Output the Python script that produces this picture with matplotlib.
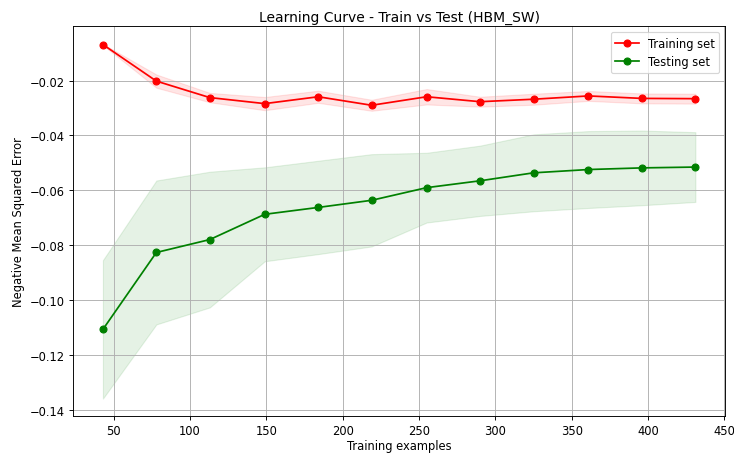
import numpy as np
import matplotlib
matplotlib.use("Agg")
import matplotlib.pyplot as plt

train_sizes = [43, 78, 113, 149, 184, 219, 255, 290, 325, 361, 396, 431]
train_mean = [-0.0069, -0.0202, -0.0262, -0.0284, -0.0259, -0.0290,
              -0.0259, -0.0277, -0.0268, -0.0256, -0.0265, -0.0266]
train_std = [0.0002, 0.0024, 0.0017, 0.0024, 0.0022, 0.0020,
             0.0028, 0.0018, 0.0020, 0.0018, 0.0018, 0.0018]
test_mean = [-0.1106, -0.0826, -0.0779, -0.0687, -0.0662, -0.0636,
             -0.0590, -0.0565, -0.0536, -0.0524, -0.0518, -0.0515]
test_std = [0.0252, 0.0262, 0.0247, 0.0171, 0.0170, 0.0168,
            0.0127, 0.0128, 0.0140, 0.0140, 0.0136, 0.0127]

tr_m = np.array(train_mean); tr_s = np.array(train_std)
te_m = np.array(test_mean); te_s = np.array(test_std)

dpi = 83
fig = plt.figure(figsize=(734 / dpi, 454 / dpi), dpi=dpi)
ax = fig.add_axes([73.3 / 734, 1 - 417.3 / 454, (725 - 73.3) / 734, (417.3 - 27.3) / 454])

ax.fill_between(train_sizes, tr_m - tr_s, tr_m + tr_s, alpha=0.1, color="r")
ax.fill_between(train_sizes, te_m - te_s, te_m + te_s, alpha=0.1, color="g")
ax.plot(train_sizes, tr_m, "o-", color="r", label="Training set")
ax.plot(train_sizes, te_m, "o-", color="g", label="Testing set")

ax.set_title("Learning Curve - Train vs Test (HBM_SW)", pad=5)
ax.set_xlabel("Training examples", labelpad=1)
ax.set_ylabel("Negative Mean Squared Error")
ax.legend(loc="best")
ax.grid(True)

fig.savefig("out.png", dpi=dpi)
